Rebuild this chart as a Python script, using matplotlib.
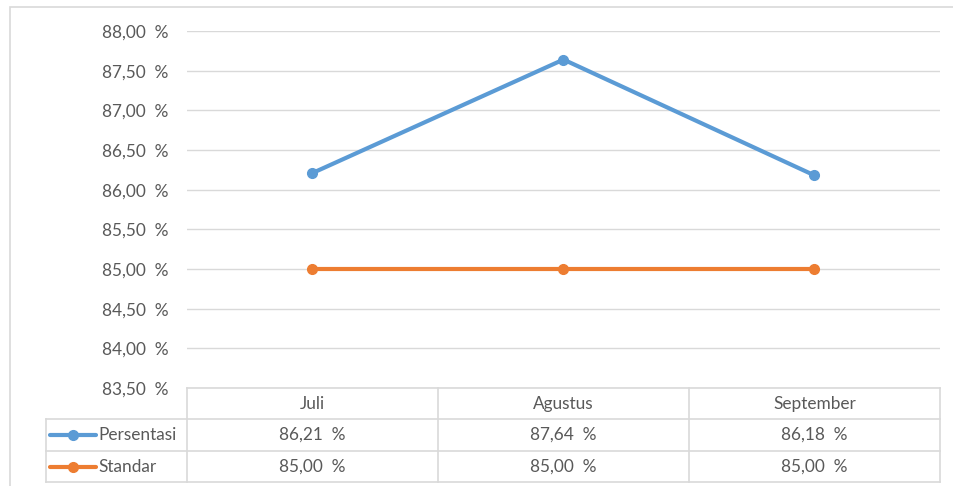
import matplotlib
matplotlib.use("Agg")
import matplotlib.pyplot as plt
from matplotlib.lines import Line2D

categories = ["Juli", "Agustus", "September"]
persentasi = [86.21, 87.64, 86.18]
standar = [85.00, 85.00, 85.00]
series_names = ["Persentasi", "Standar"]
y_ticks = [83.5, 84.0, 84.5, 85.0, 85.5, 86.0, 86.5, 87.0, 87.5, 88.0]

W, H = 954, 486
fig = plt.figure(figsize=(W / 100, H / 100), dpi=100)
plt.rcParams['font.family'] = ['Lato', 'DejaVu Sans']

def fx(x):
    return x / W

def fy(y):
    return 1 - y / H

grid_c = "#d9d9d9"
text_c = "#595959"
blue = "#5b9bd5"
orange = "#ed7d31"
fs = 12.4

# outer chart border
fig.add_artist(plt.Rectangle((fx(10), fy(490)), fx(960) - fx(10), fy(7) - fy(490),
                             transform=fig.transFigure, fill=False, edgecolor=grid_c, lw=1.2))

L, R, T, B = 187, 940, 31, 388
ax = fig.add_axes([fx(L), fy(B), fx(R) - fx(L), fy(T) - fy(B)])
ax.set_xlim(-0.5, 2.5)
ax.set_ylim(83.5, 88.0)
for s in ax.spines.values():
    s.set_visible(False)
ax.set_xticks([])
ax.set_yticks(y_ticks)
ax.set_yticklabels([f"{v:.2f}  %".replace(".", ",") for v in y_ticks], color=text_c, fontsize=fs)
ax.tick_params(axis='y', length=0, pad=13.5)
ax.grid(axis='y', color=grid_c, lw=1)
ax.set_axisbelow(True)
x = list(range(len(categories)))
ax.plot(x, persentasi, color=blue, lw=3, marker='o', ms=7, solid_capstyle='round', clip_on=False)
ax.plot(x, standar, color=orange, lw=3, marker='o', ms=7, solid_capstyle='round', clip_on=False)

# data table
rows_y = [388, 419, 451, 482]
col_x = [187, 438, 689, 940]
def hline(x0, x1, y):
    fig.add_artist(Line2D([fx(x0), fx(x1)], [fy(y), fy(y)], transform=fig.transFigure, color=grid_c, lw=1.2))
def vline(x, y0, y1):
    fig.add_artist(Line2D([fx(x), fx(x)], [fy(y0), fy(y1)], transform=fig.transFigure, color=grid_c, lw=1.2))

hline(187, 940, 388)
for y in rows_y[1:]:
    hline(46, 940, y)
for cx in col_x:
    vline(cx, 388, 482)
vline(46, 419, 482)

for i, c in enumerate(categories):
    cxm = (col_x[i] + col_x[i + 1]) / 2
    fig.text(fx(cxm), fy((rows_y[0] + rows_y[1]) / 2), c, ha='center', va='center', color=text_c, fontsize=fs)
    for r, vals in enumerate([persentasi, standar]):
        fig.text(fx(cxm), fy((rows_y[r + 1] + rows_y[r + 2]) / 2), f"{vals[i]:.2f}  %".replace(".", ","),
                 ha='center', va='center', color=text_c, fontsize=fs)

for r, (name, col) in enumerate(zip(series_names, [blue, orange])):
    ym = (rows_y[r + 1] + rows_y[r + 2]) / 2
    fig.add_artist(Line2D([fx(50), fx(96)], [fy(ym), fy(ym)], transform=fig.transFigure, color=col, lw=3,
                          solid_capstyle='round'))
    fig.add_artist(Line2D([fx(73)], [fy(ym)], transform=fig.transFigure, color=col, marker='o', ms=7))
    fig.text(fx(98), fy(ym), name, ha='left', va='center', color=text_c, fontsize=fs)

fig.savefig("out.png", dpi=100)
